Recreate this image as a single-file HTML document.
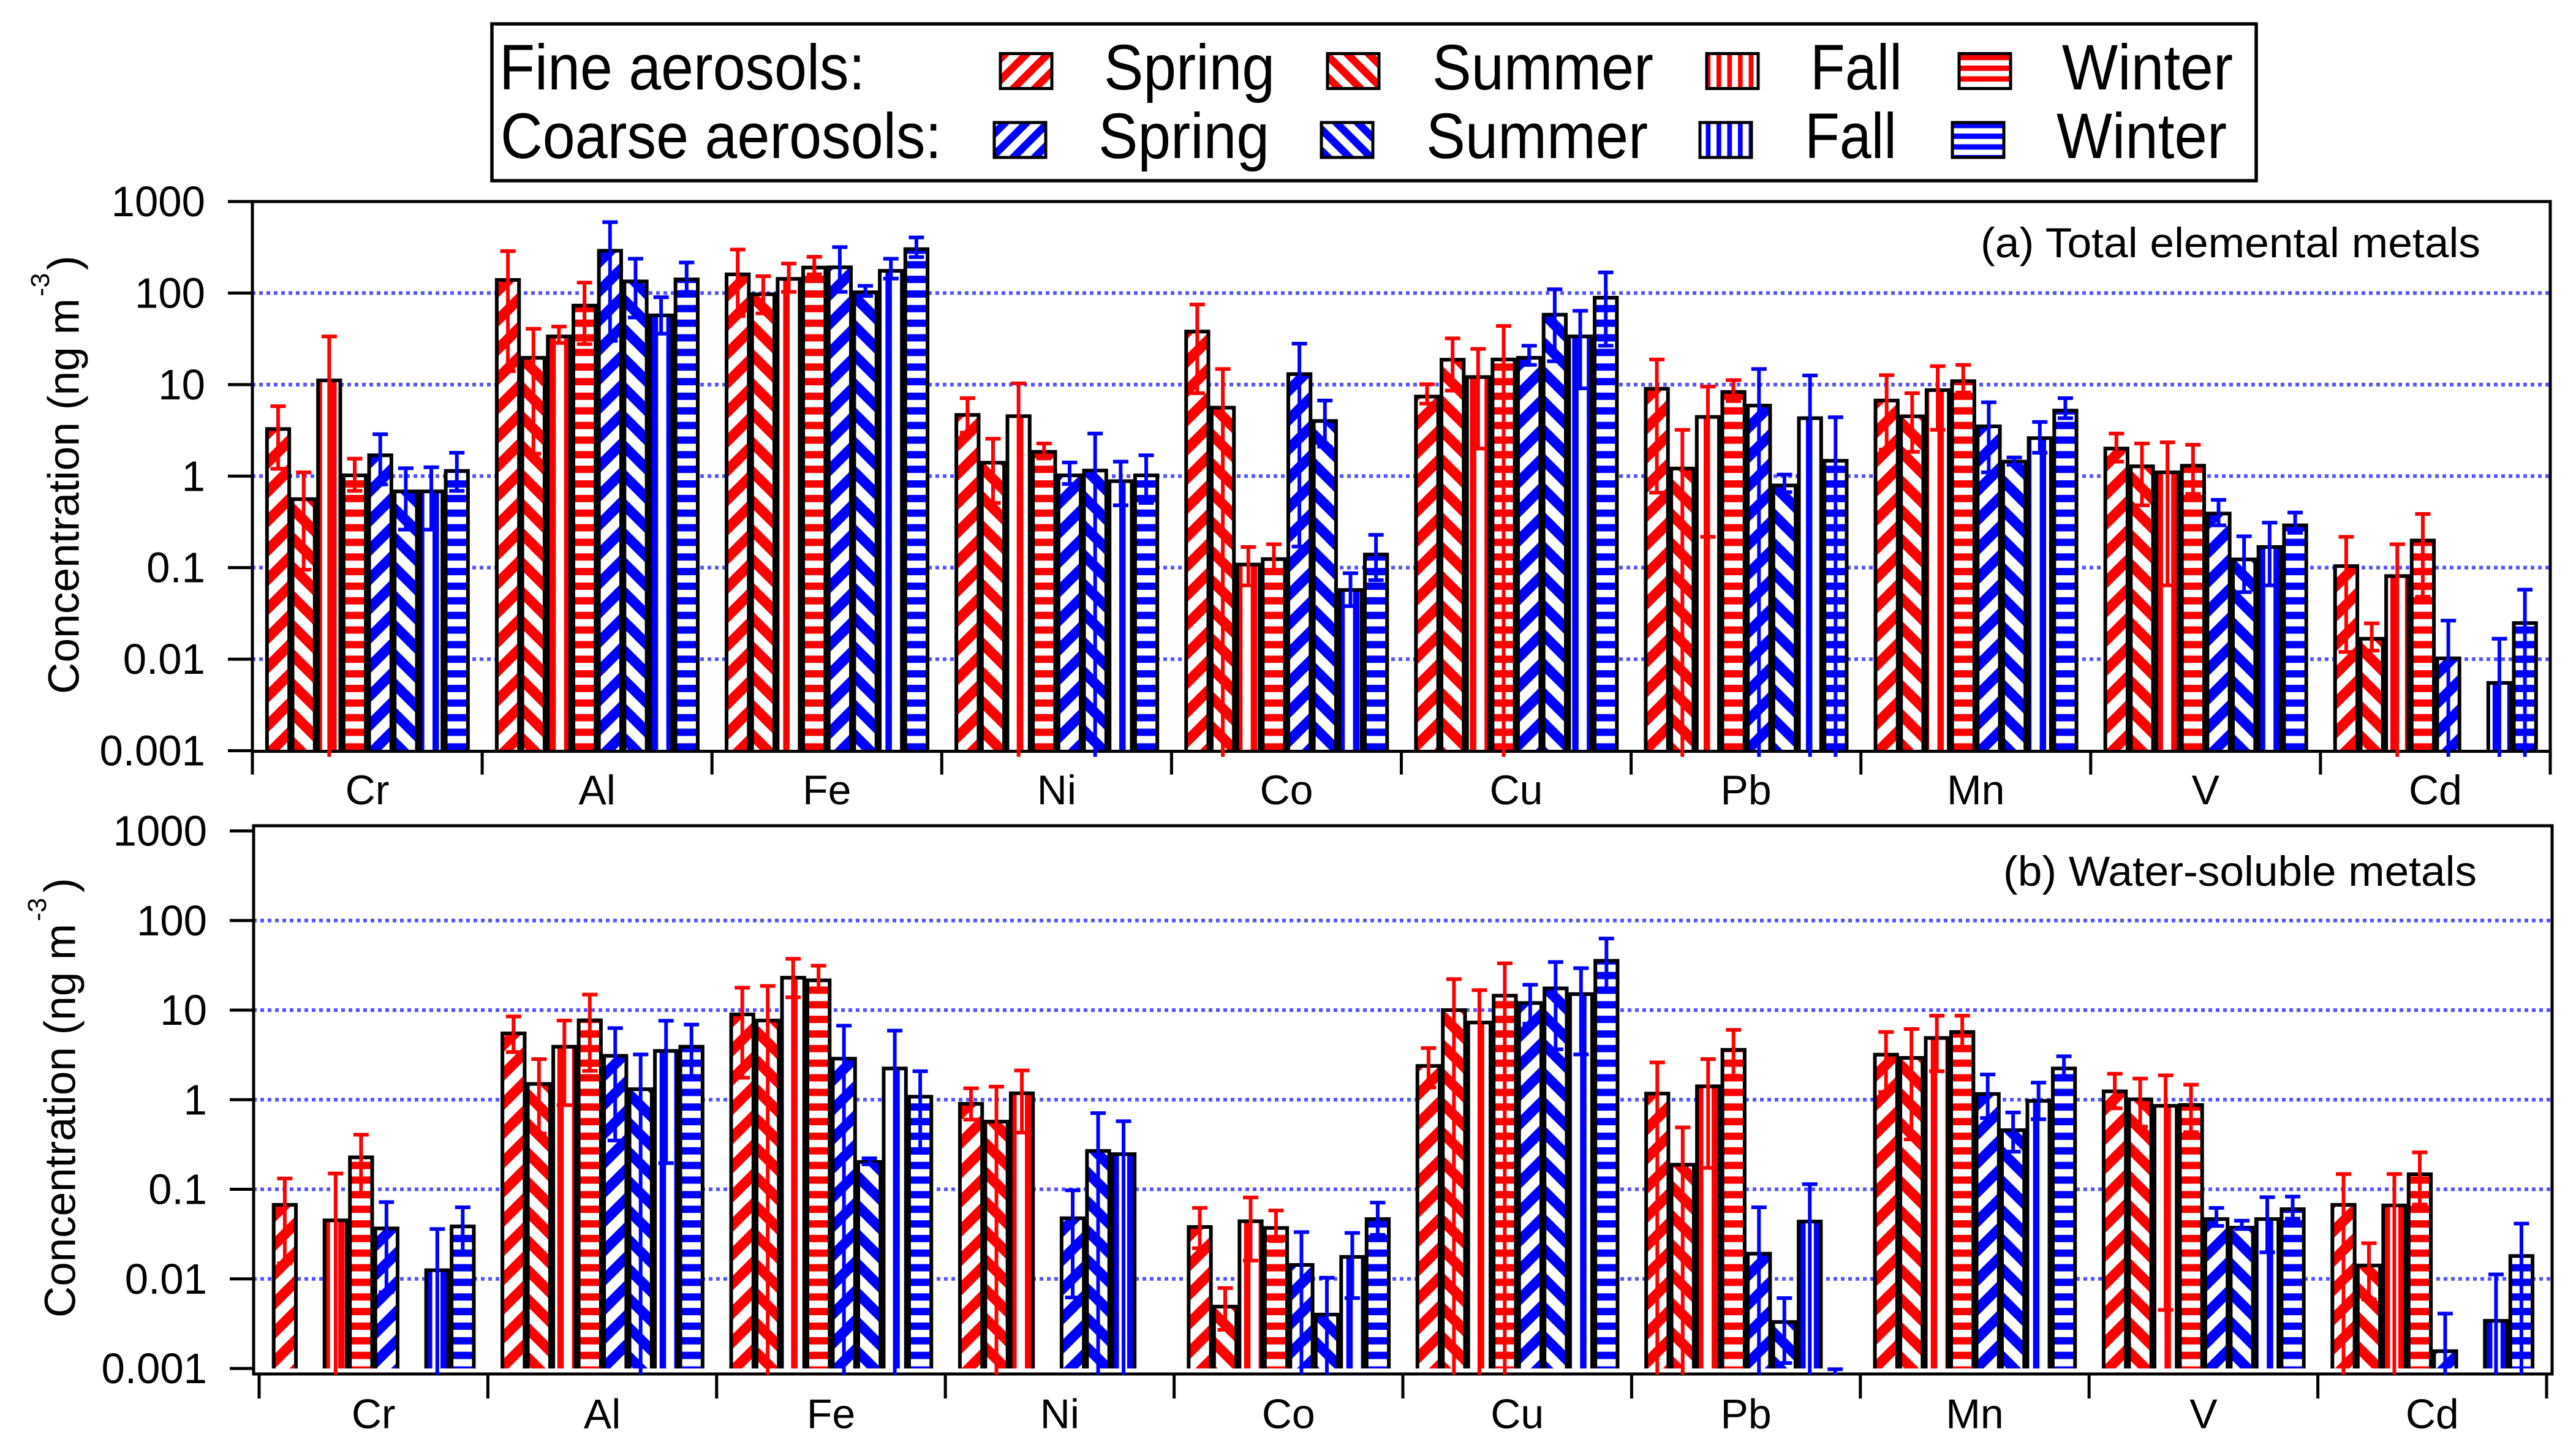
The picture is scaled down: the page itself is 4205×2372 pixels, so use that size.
<!DOCTYPE html>
<html lang="en">
<head>
<meta charset="utf-8">
<title>Metal concentrations in fine and coarse aerosols</title>
<style>
html,body{margin:0;padding:0;background:#fff}
svg{display:block}
text{font-family:"Liberation Sans",sans-serif;fill:#000}
</style>
</head>
<body>
<svg id="chart" xmlns="http://www.w3.org/2000/svg" width="4205" height="2372" viewBox="0 0 4205 2372">
<defs id="defs"></defs>
<rect width="4205" height="2372" fill="#fff"/>
<g id="panels"></g>
<g>
<rect x="803" y="39" width="2880" height="256" fill="#fff" stroke="#000" stroke-width="5.5"/>
<g font-size="105">
<text x="815" y="146" textLength="597" lengthAdjust="spacingAndGlyphs">Fine aerosols:</text>
<text x="1802" y="146" textLength="279" lengthAdjust="spacingAndGlyphs">Spring</text>
<text x="2338" y="146" textLength="361" lengthAdjust="spacingAndGlyphs">Summer</text>
<text x="2955" y="146" textLength="150" lengthAdjust="spacingAndGlyphs">Fall</text>
<text x="3366" y="146" textLength="279" lengthAdjust="spacingAndGlyphs">Winter</text>
<text x="817" y="258" textLength="720" lengthAdjust="spacingAndGlyphs">Coarse aerosols:</text>
<text x="1793" y="258" textLength="279" lengthAdjust="spacingAndGlyphs">Spring</text>
<text x="2328" y="258" textLength="362" lengthAdjust="spacingAndGlyphs">Summer</text>
<text x="2946" y="258" textLength="150" lengthAdjust="spacingAndGlyphs">Fall</text>
<text x="3357" y="258" textLength="278" lengthAdjust="spacingAndGlyphs">Winter</text>
</g>
<g stroke="#000" stroke-width="5">
<rect x="1633" y="87.5" width="84" height="57" fill="url(#leg-fine-spring)"/>
<rect x="2167" y="87.5" width="84" height="57" fill="url(#leg-fine-summer)"/>
<rect x="2786" y="87.5" width="84" height="57" fill="url(#leg-fine-fall)"/>
<rect x="3198" y="87.5" width="84" height="57" fill="url(#leg-fine-winter)"/>
<rect x="1623" y="200" width="84" height="57" fill="url(#leg-coarse-spring)"/>
<rect x="2157" y="200" width="84" height="57" fill="url(#leg-coarse-summer)"/>
<rect x="2775" y="200" width="84" height="57" fill="url(#leg-coarse-fall)"/>
<rect x="3187" y="200" width="84" height="57" fill="url(#leg-coarse-winter)"/>
</g>
</g>
</svg>
<script>
const categories = ['Cr','Al','Fe','Ni','Co','Cu','Pb','Mn','V','Cd'];
const tickLabels = ['1000','100','10','1','0.1','0.01','0.001'];
const tickValues = [1000,100,10,1,0.1,0.01,0.001];
const gridValues = [100,10,1,0.1,0.01];

/* Panel (a) total elemental metals, ng m-3. null = no bar, low 0 = lower whisker runs off the log axis */
const totalFineSpring = [3.27,139,160,4.66,38,7.4,9.0,6.7,2.0,0.104];
const totalFineSpringHigh = [5.8,287,299,7.1,75,10.1,18.8,12.7,2.92,0.217];
const totalFineSpringLow = [1.2,14,56,2.98,8.05,6.2,0.66,1.95,1.44,0.012];
const totalFineSummer = [0.56,19.6,97,1.4,5.6,18.7,1.21,4.5,1.28,0.0167];
const totalFineSummerHigh = [1.1,40.7,153,2.56,14.8,32,3.2,8.05,2.27,0.0246];
const totalFineSummerLow = [0.095,1.76,60,0.51,0,8.6,0,1.84,0.48,0.0124];
const totalFineFall = [11.1,33.6,143,4.52,0.108,12.1,4.43,8.7,1.1,0.081];
const totalFineFallHigh = [33.6,43,210,10.3,0.168,24.5,9.5,15.9,2.34,0.18];
const totalFineFallLow = [0,28.5,103,0,0.064,2.0,0.217,3.2,0.064,0];
const totalFineWinter = [1.02,73,190,1.84,0.124,18.8,8.3,10.9,1.3,0.198];
const totalFineWinterHigh = [1.55,130,249,2.27,0.18,43.7,11.2,16.4,2.2,0.386];
const totalFineWinterLow = [0.69,27.7,160,1.56,0.092,0,6.6,8.2,0.64,0.048];
const totalCoarseSpring = [1.69,290,191,1.02,13,19.6,5.9,3.5,0.39,0.0102];
const totalCoarseSpringHigh = [2.87,596,318,1.41,28,26.6,14.8,6.4,0.55,0.0264];
const totalCoarseSpringLow = [0.81,30,103,0.82,0.17,16.4,0,1.1,0.29,0];
const totalCoarseSummer = [0.68,134,102,1.15,4.0,58,0.79,1.44,0.123,null];
const totalCoarseSummerHigh = [1.22,237,120,2.92,6.7,110,1.04,1.6,0.22,null];
const totalCoarseSummerLow = [0.26,54,93,0,2.1,18,0.67,1.33,0.054,null];
const totalCoarseFall = [0.68,57,175,0.88,0.057,33.6,4.3,2.6,0.168,0.0055];
const totalCoarseFallHigh = [1.25,90,237,1.44,0.087,64,12.6,3.9,0.31,0.0167];
const totalCoarseFallLow = [0.26,36,144,0.48,0.038,9.1,0,1.8,0.064,0];
const totalCoarseWinter = [1.14,141,302,1.02,0.139,89,1.47,5.2,0.29,0.0248];
const totalCoarseWinterHigh = [1.8,216,405,1.69,0.228,168,4.4,7.1,0.40,0.0575];
const totalCoarseWinterLow = [0.69,103,247,0.51,0.073,26.6,0,4.3,0.24,0];

/* Panel (b) water-soluble metals, ng m-3 */
const solubleFineSpring = [0.067,5.5,8.95,0.9,0.038,2.38,1.17,3.18,1.24,0.067];
const solubleFineSpringHigh = [0.132,8.5,17.8,1.34,0.062,3.77,2.61,5.7,1.95,0.148];
const solubleFineSpringLow = [0.0149,3.4,1.76,0.6,0.022,1.37,0,1.22,0.8,0];
const solubleFineSummer = [null,1.5,7.65,0.57,0.0049,10,0.188,2.93,1.01,0.0141];
const solubleFineSummerHigh = [null,2.84,18.6,1.4,0.0079,22.2,0.49,6.15,1.72,0.025];
const solubleFineSummerLow = [null,0.42,0,0,0.0027,0,0,0.36,0.5,0.0059];
const solubleFineFall = [0.045,3.9,23,1.18,0.044,7.27,1.41,4.89,0.855,0.066];
const solubleFineFallHigh = [0.15,7.65,37.4,2.12,0.081,16.7,2.84,8.67,1.87,0.148];
const solubleFineFallLow = [0,0.87,13.9,0.43,0.016,0,0.173,2.08,0.0045,0];
const solubleFineWinter = [0.227,7.7,21.5,null,0.037,14.5,3.6,5.7,0.873,0.147];
const solubleFineWinterHigh = [0.407,14.9,31.3,null,0.058,33.3,6.02,8.67,1.47,0.258];
const solubleFineWinterLow = [0.088,2.1,16.2,null,0.0264,0,1.85,3.77,0.434,0.0676];
const solubleCoarseSpring = [0.0366,3.09,2.87,0.0475,0.0143,12,0.0191,1.16,0.0465,0.00156];
const solubleCoarseSpringHigh = [0.072,6.3,6.7,0.0975,0.0333,19.2,0.063,1.91,0.062,0.0041];
const solubleCoarseSpringLow = [0.0071,0.35,0,0.0062,0,7.04,0,0.625,0.039,0];
const solubleCoarseSummer = [null,1.31,0.202,0.268,0.004,17.5,0.0033,0.457,0.0373,null];
const solubleCoarseSummerHigh = [null,3.2,0.222,0.708,0.0103,34.4,0.0061,0.72,0.0446,null];
const solubleCoarseSummerLow = [null,0,0.19,0,0,3.65,0.00115,0.263,0.036,null];
const solubleCoarseFall = [0.0125,3.5,2.23,0.247,0.0176,15.1,0.0437,0.97,0.0465,0.0034];
const solubleCoarseFallHigh = [0.036,7.6,5.9,0.575,0.0326,29.4,0.114,1.55,0.0817,0.0112];
const solubleCoarseFallLow = [0,0.196,0,0,0.0061,3.2,0,0.605,0.0198,0];
const solubleCoarseWinter = [0.0385,3.9,1.08,null,0.0465,35.5,null,2.23,0.06,0.018];
const solubleCoarseWinterHigh = [0.063,6.9,2.08,null,0.071,63,0.00098,3.05,0.083,0.0414];
const solubleCoarseWinterLow = [0.02,1.7,0.255,null,0.031,15.9,0,1.76,0.047,0];

const NS = 'http://www.w3.org/2000/svg';
const RED = '#ff0000', BLUE = '#0000ff', GRID = '#5555ff';

function mk(tag, attrs, parent){
  const el = document.createElementNS(NS, tag);
  for (const k in attrs) el.setAttribute(k, attrs[k]);
  if (parent) parent.appendChild(el);
  return el;
}

/* Hatch patterns: white tile with a coloured stripe; phase shifts the stripe in device space */
const defs = document.getElementById('defs');
function addPattern(id, kind, colour, size, phase){
  const vertical = kind === 'v';
  const horizontal = kind === 'h';
  const attrs = {id:id, patternUnits:'userSpaceOnUse', width:size, height:size, x:0, y:0};
  if (kind === 'up' || vertical) attrs.x = phase;
  if (kind === 'down' || horizontal) attrs.y = phase;
  const p = mk('pattern', attrs, defs);
  
  
  mk('rect', {width:size, height:size, fill:'#fff'}, p);
  if (kind === 'up' || kind === 'down'){
    const w = (size/2)/Math.SQRT2;
    const centres = kind === 'up' ? [size/4, 5*size/4] : [size/4, -3*size/4];
    centres.forEach(c => {
      const pts = kind === 'up'
        ? {x1:c+size, y1:-size, x2:-size, y2:c+size}
        : {x1:-size, y1:-size+c, x2:2*size, y2:2*size+c};
      mk('line', Object.assign(pts, {stroke:colour, 'stroke-width':w}), p);
    });
  } else if (vertical){
    mk('rect', {x:0, y:0, width:size*0.44, height:size, fill:colour}, p);
  } else {
    mk('rect', {x:0, y:0, width:size, height:size*0.5, fill:colour}, p);
  }
}
[['a',35.1,7.6,10.3,31.8,14.4,20.85],['b',35.1,7.6,10.3,31.8,3.5,12.5]].forEach(d => {
  addPattern(d[0]+'-fine-spring','up',RED,47.7,d[1]);
  addPattern(d[0]+'-fine-summer','down',RED,47.7,d[2]);
  addPattern(d[0]+'-fine-fall','v',RED,23.85,d[5]);
  addPattern(d[0]+'-fine-winter','h',RED,23.85,d[6]);
  addPattern(d[0]+'-coarse-spring','up',BLUE,47.7,d[3]);
  addPattern(d[0]+'-coarse-summer','down',BLUE,47.7,d[4]);
  addPattern(d[0]+'-coarse-fall','v',BLUE,23.85,d[5]);
  addPattern(d[0]+'-coarse-winter','h',BLUE,23.85,d[6]);
});
addPattern('leg-fine-spring','up',RED,35,5);
addPattern('leg-fine-summer','down',RED,35,15);
addPattern('leg-fine-fall','v',RED,17.5,2);
addPattern('leg-fine-winter','h',RED,17.5,2);
addPattern('leg-coarse-spring','up',BLUE,35,12.3);
addPattern('leg-coarse-summer','down',BLUE,35,5.2);
addPattern('leg-coarse-fall','v',BLUE,17.5,2);
addPattern('leg-coarse-winter','h',BLUE,17.5,8);

const seriesKeys = ['fine-spring','fine-summer','fine-fall','fine-winter','coarse-spring','coarse-summer','coarse-fall','coarse-winter'];
const seriesColours = [RED,RED,RED,RED,BLUE,BLUE,BLUE,BLUE];

const panelA = {
  id:'a', yTop:329, yBottom:1225.5, axisTop:329, axisBottom:1226.5, left:412, right:4163,
  tickStart:412, groupStep:375.1, tickEnd:1264.5, labelRight:335, catBaseline:1313, yTickLeft:372,
  topFromTick:true,
  values:[totalFineSpring,totalFineSummer,totalFineFall,totalFineWinter,totalCoarseSpring,totalCoarseSummer,totalCoarseFall,totalCoarseWinter],
  highs:[totalFineSpringHigh,totalFineSummerHigh,totalFineFallHigh,totalFineWinterHigh,totalCoarseSpringHigh,totalCoarseSummerHigh,totalCoarseFallHigh,totalCoarseWinterHigh],
  lows:[totalFineSpringLow,totalFineSummerLow,totalFineFallLow,totalFineWinterLow,totalCoarseSpringLow,totalCoarseSummerLow,totalCoarseFallLow,totalCoarseWinterLow],
  title:{text:'(a) Total elemental metals', x:3233, y:420, len:816},
  yTitle:{x:128.6, y:1133, len:646, supX:80, supY:484, parenY:441}
};
const panelB = {
  id:'b', yTop:1356.5, yBottom:2234, axisTop:1348, axisBottom:2243, left:414, right:4166,
  tickStart:423, groupStep:373.4, tickEnd:2283, labelRight:338, catBaseline:2331.5, yTickLeft:375,
  topFromTick:false,
  values:[solubleFineSpring,solubleFineSummer,solubleFineFall,solubleFineWinter,solubleCoarseSpring,solubleCoarseSummer,solubleCoarseFall,solubleCoarseWinter],
  highs:[solubleFineSpringHigh,solubleFineSummerHigh,solubleFineFallHigh,solubleFineWinterHigh,solubleCoarseSpringHigh,solubleCoarseSummerHigh,solubleCoarseFallHigh,solubleCoarseWinterHigh],
  lows:[solubleFineSpringLow,solubleFineSummerLow,solubleFineFallLow,solubleFineWinterLow,solubleCoarseSpringLow,solubleCoarseSummerLow,solubleCoarseFallLow,solubleCoarseWinterLow],
  title:{text:'(b) Water-soluble metals', x:3270, y:1446, len:773},
  yTitle:{x:122.4, y:2151, len:643, supX:75, supY:1504, parenY:1457}
};

function drawPanel(P){
  const root = document.getElementById('panels');
  const g = mk('g', {}, root);
  
  

  const decade = (P.yBottom - P.yTop) / 6;
  const yScale = v => P.yTop + (3 - Math.log10(v)) * decade;
  const pitch = P.groupStep / 9;
  const barLeft = (cat, s) => P.tickStart + cat * P.groupStep + pitch / 2 + s * pitch;
  const clipBottom = P.yBottom + 10;

  /* gridlines */
  gridValues.forEach(v => {
    const line = mk('line', {x1:P.left - 1, x2:P.right, y1:yScale(v), y2:yScale(v), stroke:GRID, 'stroke-width':6, 'stroke-dasharray':'6 6'}, g);
    
    
  });

  /* bars */
  P.values.forEach((vals, s) => {
    vals.forEach((v, c) => {
      if (v === null) return;
      const left = barLeft(c, s) + 3;
      const right = left + 36.3;
      const top = yScale(v);
      const bar = mk('path', {d:`M${left} ${P.yBottom}V${top}H${right}V${P.yBottom}`, fill:`url(#${P.id}-${seriesKeys[s]})`, stroke:'#000', 'stroke-width':6}, g);
      
      
    });
  });

  /* axes */
  const lines = [
    ['y-axis-line', P.left, P.axisTop - 2.5, P.left, P.tickEnd],
    ['right-axis-line', P.right, P.axisTop - 2.5, P.right, P.tickEnd],
    ['top-axis-line', P.topFromTick ? P.yTickLeft : P.left, P.axisTop, P.right + 2.5, P.axisTop],
    ['x-axis-line', P.left, P.axisBottom, P.right + 2.5, P.axisBottom]
  ];
  if (P.id === 'b') { lines[0][4] = P.axisBottom + 2.5; lines[1][4] = P.axisBottom + 2.5; }
  lines.forEach(l => {
    const a = mk('line', {x1:l[1], y1:l[2], x2:l[3], y2:l[4], stroke:'#000', 'stroke-width':5}, g);
    
    
  });

  tickValues.forEach((v, i) => {
    const y = yScale(v);
    const t = mk('line', {x1:P.yTickLeft, x2:P.left, y1:y, y2:y, stroke:'#000', 'stroke-width':5}, g);
    
    
    const lab = mk('text', {transform:`translate(${P.labelRight} ${y + 24}) scale(0.985 1)`, 'text-anchor':'end', 'font-size':70}, g);
    lab.textContent = tickLabels[i];
    
    
  });

  for (let i = 0; i <= categories.length; i++){
    const x = P.tickStart + i * P.groupStep;
    const t = mk('line', {x1:x, x2:x, y1:P.axisBottom, y2:P.tickEnd, stroke:'#000', 'stroke-width':5}, g);
    
    
  }
  categories.forEach((name, c) => {
    const lab = mk('text', {x:P.tickStart + (c + 0.5) * P.groupStep, y:P.catBaseline, 'text-anchor':'middle', 'font-size':68}, g);
    lab.textContent = name;
    
    
  });

  /* error bars */
  P.highs.forEach((highs, s) => {
    highs.forEach((hi, c) => {
      if (hi === null) return;
      const lo = P.lows[s][c];
      const cx = barLeft(c, s) + 21.15;
      const yHi = yScale(hi);
      const yLo = lo > 0 ? yScale(lo) : clipBottom;
      const colour = seriesColours[s];
      const bits = `M${cx} ${yHi}V${yLo}M${cx - 12.5} ${yHi}H${cx + 12.5}` + (lo > 0 ? `M${cx - 12.5} ${yLo}H${cx + 12.5}` : '');
      const err = mk('path', {d:bits, stroke:colour, 'stroke-width':6, fill:'none'}, g);
      
      
    });
  });

  /* labels */
  const title = mk('text', {x:P.title.x, y:P.title.y, 'font-size':69, textLength:P.title.len, lengthAdjust:'spacingAndGlyphs'}, g);
  title.textContent = P.title.text;
  
  

  const Y = P.yTitle;
  const yt = mk('text', {transform:`translate(${Y.x} ${Y.y}) rotate(-90)`, 'font-size':71.5, textLength:Y.len, lengthAdjust:'spacingAndGlyphs'}, g);
  yt.textContent = 'Concentration (ng m';
  
  
  const sup = mk('text', {transform:`translate(${Y.supX} ${Y.supY}) rotate(-90)`, 'font-size':43}, g);
  sup.textContent = '-3';
  
  
  const par = mk('text', {transform:`translate(${Y.x} ${Y.parenY}) rotate(-90)`, 'font-size':71.5}, g);
  par.textContent = ')';
  
  
}
drawPanel(panelA);
drawPanel(panelB);
</script>
</body>
</html>
